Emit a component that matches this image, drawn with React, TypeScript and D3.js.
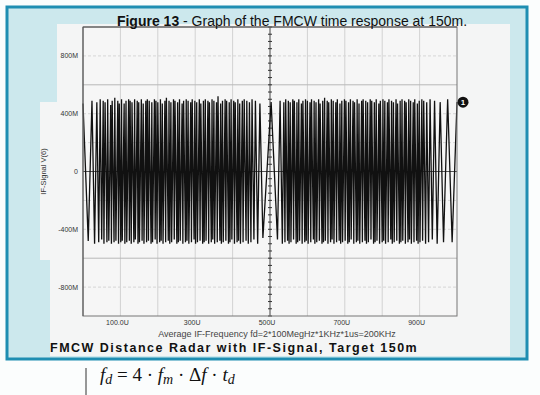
import React from "react";
import * as d3 from "d3";

const xTicks = [100, 300, 500, 700, 900];
const xTickLabels = ["100.0U", "300U", "500U", "700U", "900U"];
const yTicks = [0.8, 0.4, 0, -0.4, -0.8];
const yTickLabels = ["800M", "400M", "0", "-400M", "-800M"];
const xGrid = [100, 200, 300, 400, 600, 700, 800, 900];
const yGrid = [0.8, 0.6, 0.4, 0.2, -0.2, -0.4, -0.6, -0.8];

// IF signal vertices: [time (us), voltage (V)]
const ifSignal: [number, number][] = [
  [0, 0.47], [14, -0.48], [24, 0.49], [31, -0.5], [37, 0.48], [42, -0.49], [46, 0.5], [50, -0.47], [54, 0.49], [56, -0.5],
  [59, 0.48], [64, -0.49], [66, 0.5], [69, -0.48], [74, 0.46], [76, -0.5], [78, 0.49], [83, -0.49], [85, 0.51], [88, -0.48],
  [93, 0.49], [95, -0.5], [97, 0.47], [101, -0.49], [103, 0.5], [105, -0.48], [110, 0.47], [112, -0.5], [115, 0.49], [117, -0.49],
  [122, 0.5], [124, -0.48], [126, 0.49], [129, -0.5], [131, 0.48], [136, -0.49], [138, 0.5], [140, -0.47], [145, 0.49], [147, -0.5],
  [149, 0.48], [151, -0.49], [156, 0.5], [158, -0.48], [161, 0.47], [163, -0.5], [168, 0.49], [170, -0.49], [172, 0.5], [175, -0.48],
  [177, 0.49], [182, -0.5], [184, 0.48], [186, -0.49], [191, 0.5], [193, -0.47], [195, 0.49], [198, -0.5], [200, 0.48], [205, -0.49],
  [207, 0.5], [209, -0.48], [212, 0.47], [214, -0.5], [219, 0.49], [221, -0.49], [223, 0.51], [228, -0.48], [230, 0.49], [232, -0.5],
  [235, 0.48], [237, -0.49], [242, 0.5], [244, -0.47], [246, 0.49], [251, -0.5], [253, 0.48], [255, -0.49], [258, 0.5], [260, -0.48],
  [265, 0.47], [267, -0.5], [269, 0.49], [274, -0.49], [276, 0.5], [278, -0.48], [281, 0.49], [283, -0.5], [288, 0.48], [290, -0.49],
  [292, 0.5], [297, -0.47], [299, 0.49], [301, -0.5], [304, 0.48], [306, -0.49], [311, 0.5], [313, -0.48], [315, 0.47], [320, -0.5],
  [322, 0.49], [324, -0.49], [327, 0.5], [329, -0.48], [334, 0.49], [336, -0.5], [338, 0.48], [343, -0.49], [345, 0.5], [347, -0.47],
  [350, 0.49], [352, -0.5], [357, 0.48], [359, -0.49], [361, 0.52], [366, -0.48], [368, 0.47], [370, -0.5], [373, 0.49], [375, -0.49],
  [380, 0.5], [382, -0.48], [384, 0.49], [389, -0.5], [391, 0.48], [393, -0.49], [396, 0.5], [398, -0.47], [403, 0.49], [405, -0.5],
  [407, 0.48], [412, -0.49], [414, 0.5], [416, -0.48], [419, 0.47], [421, -0.5], [426, 0.49], [428, -0.49], [431, 0.5], [436, -0.48],
  [438, 0.49], [442, -0.5], [445, 0.48], [449, -0.49], [452, 0.5], [457, -0.47], [461, 0.49], [467, -0.5], [473, 0.47], [481, -0.46],
  [503, 0.48], [520, -0.47], [527, 0.49], [533, -0.5], [537, 0.48], [540, -0.49], [542, 0.5], [547, -0.48], [549, 0.49], [551, -0.5],
  [554, 0.48], [556, -0.49], [561, 0.5], [563, -0.47], [565, 0.49], [570, -0.5], [572, 0.48], [574, -0.49], [577, 0.5], [579, -0.48],
  [584, 0.47], [586, -0.5], [588, 0.49], [593, -0.49], [595, 0.5], [597, -0.48], [600, 0.49], [602, -0.5], [607, 0.48], [609, -0.49],
  [611, 0.5], [616, -0.47], [618, 0.49], [620, -0.5], [623, 0.48], [625, -0.49], [630, 0.5], [632, -0.48], [634, 0.47], [639, -0.5],
  [641, 0.49], [643, -0.49], [646, 0.51], [648, -0.48], [653, 0.49], [655, -0.5], [657, 0.48], [662, -0.49], [664, 0.5], [666, -0.47],
  [669, 0.49], [671, -0.5], [676, 0.48], [678, -0.49], [680, 0.5], [685, -0.48], [687, 0.47], [689, -0.5], [692, 0.49], [694, -0.49],
  [699, 0.5], [701, -0.48], [703, 0.49], [708, -0.5], [710, 0.48], [712, -0.49], [715, 0.5], [717, -0.47], [722, 0.49], [724, -0.5],
  [726, 0.48], [731, -0.49], [733, 0.5], [735, -0.48], [738, 0.47], [740, -0.5], [745, 0.49], [747, -0.49], [749, 0.5], [754, -0.48],
  [756, 0.49], [758, -0.5], [761, 0.48], [763, -0.49], [768, 0.5], [770, -0.47], [772, 0.49], [777, -0.5], [779, 0.48], [781, -0.49],
  [784, 0.5], [786, -0.48], [791, 0.47], [793, -0.5], [795, 0.49], [800, -0.49], [802, 0.5], [804, -0.48], [807, 0.49], [809, -0.5],
  [814, 0.48], [816, -0.49], [818, 0.5], [823, -0.47], [825, 0.49], [827, -0.5], [830, 0.48], [832, -0.49], [837, 0.5], [839, -0.48],
  [841, 0.47], [846, -0.5], [848, 0.49], [850, -0.49], [853, 0.5], [855, -0.48], [860, 0.49], [862, -0.5], [864, 0.48], [869, -0.49],
  [871, 0.5], [873, -0.47], [876, 0.49], [878, -0.5], [883, 0.48], [885, -0.49], [887, 0.5], [892, -0.48], [894, 0.47], [896, -0.5],
  [899, 0.49], [901, -0.49], [906, 0.5], [908, -0.48], [911, 0.49], [916, -0.5], [919, 0.48], [924, -0.49], [928, 0.5], [934, -0.47],
  [940, 0.49], [947, -0.5], [955, 0.48], [964, -0.49], [975, 0.5], [987, -0.49], [1000, 0.48],
];

const axisMinorTicksY = d3.range(-1, 1.0001, 0.05);

export default function App() {
  const x = d3.scaleLinear().domain([0, 1000]).range([83, 457]);
  const y = d3.scaleLinear().domain([-1, 1]).range([316, 27]);
  const line = d3
    .line<[number, number]>()
    .x((d) => x(d[0]))
    .y((d) => y(d[1]));

  const font = "'Liberation Sans', Arial, sans-serif";
  const last = ifSignal[ifSignal.length - 1];

  return (
    <svg
      width={540}
      height={395}
      style={{ position: "absolute", left: 0, top: 0, background: "#fbfdfd" }}
      fontFamily={font}
    >
      {/* outer cyan frame */}
      <rect x={7} y={7} width={520} height={352} fill="#cce8ed" stroke="#1f8eb2" strokeWidth={3} />
      {/* inner panel */}
      <path d="M57,24 H510 V356 H50 V260 H40 V102 H57 Z" fill="#f4f5f5" />
      {/* plot background */}
      <rect x={83} y={27} width={374} height={289} fill="#f6f6f6" />
      {/* grid */}
      {xGrid.map((g) => (
        <line key={"xg" + g} x1={x(g)} x2={x(g)} y1={27} y2={316} stroke="#d2d2d2" strokeWidth={1} />
      ))}
      {yGrid.map((g) => (
        <line
          key={"yg" + g}
          x1={83}
          x2={457}
          y1={y(g)}
          y2={y(g)}
          stroke={Math.abs(g) === 0.6 ? "#b8b8b8" : "#d6d6d6"}
          strokeWidth={1}
          strokeDasharray={Math.abs(g) === 0.6 ? undefined : "3,2"}
        />
      ))}
      {/* zero axes */}
      <line x1={83} x2={457} y1={y(0)} y2={y(0)} stroke="#555" strokeWidth={1} />
      <line x1={x(500)} x2={x(500)} y1={27} y2={316} stroke="#444" strokeWidth={1} />
      {axisMinorTicksY.map((t, i) => (
        <line key={"mt" + i} x1={x(500) - 2} x2={x(500) + 2} y1={y(t)} y2={y(t)} stroke="#333" strokeWidth={1} />
      ))}
      {/* signal */}
      <path d={line(ifSignal) || ""} fill="none" stroke="#111" strokeWidth={1.3} strokeLinejoin="miter" strokeMiterlimit={2} />
      {/* plot border */}
      <rect x={83} y={27} width={374} height={289} fill="none" stroke="#777" strokeWidth={1} />
      <line x1={83} x2={457} y1={27} y2={27} stroke="#555" />
      <line x1={83} x2={83} y1={27} y2={316} stroke="#555" />
      {/* marker */}
      <circle cx={x(last[0]) + 6} cy={y(last[1])} r={5.5} fill="#111" />
      <text x={x(last[0]) + 6} y={y(last[1]) + 3} fontSize={8} fontWeight="bold" fill="#fff" textAnchor="middle">
        1
      </text>
      {/* y labels */}
      {yTicks.map((t, i) => (
        <text key={"yl" + t} x={78} y={y(t) + 2.5} fontSize={7} fill="#333" textAnchor="end">
          {yTickLabels[i]}
        </text>
      ))}
      <text transform={`translate(46,${y(0)}) rotate(-90)`} fontSize={7.5} fill="#333" textAnchor="middle">
        IF-Signal V(6)
      </text>
      {/* x labels */}
      {xTicks.map((t, i) => (
        <text key={"xl" + t} x={x(t) - 3} y={325} fontSize={7} fill="#333" textAnchor="middle">
          {xTickLabels[i]}
        </text>
      ))}
      <text x={277} y={337} fontSize={9} fill="#444" textAnchor="middle">
        Average IF-Frequency fd=2*100MegHz*1KHz*1us=200KHz
      </text>
      <text x={50} y={352} fontSize={12.5} fontWeight="bold" fill="#111" letterSpacing={1.5}>
        FMCW Distance Radar with IF-Signal, Target 150m
      </text>
      {/* title */}
      <text x={292} y={26} fontSize={14} fill="#111" textAnchor="middle">
        <tspan fontWeight="bold">Figure 13</tspan>
        <tspan> - Graph of the FMCW time response at 150m.</tspan>
      </text>
      {/* formula */}
      <line x1={86} x2={86} y1={368} y2={395} stroke="#333" strokeWidth={1} />
      <text x={100} y={381} fontSize={19} fontFamily="'Liberation Serif', 'Times New Roman', serif" fill="#111">
        <tspan fontStyle="italic">f</tspan>
        <tspan fontStyle="italic" fontSize={14} dy={3}>d</tspan>
        <tspan dy={-3}> = 4 · </tspan>
        <tspan fontStyle="italic">f</tspan>
        <tspan fontStyle="italic" fontSize={14} dy={3}>m</tspan>
        <tspan dy={-3}> · Δ</tspan>
        <tspan fontStyle="italic">f</tspan>
        <tspan> · </tspan>
        <tspan fontStyle="italic">t</tspan>
        <tspan fontStyle="italic" fontSize={14} dy={3}>d</tspan>
      </text>
    </svg>
  );
}
